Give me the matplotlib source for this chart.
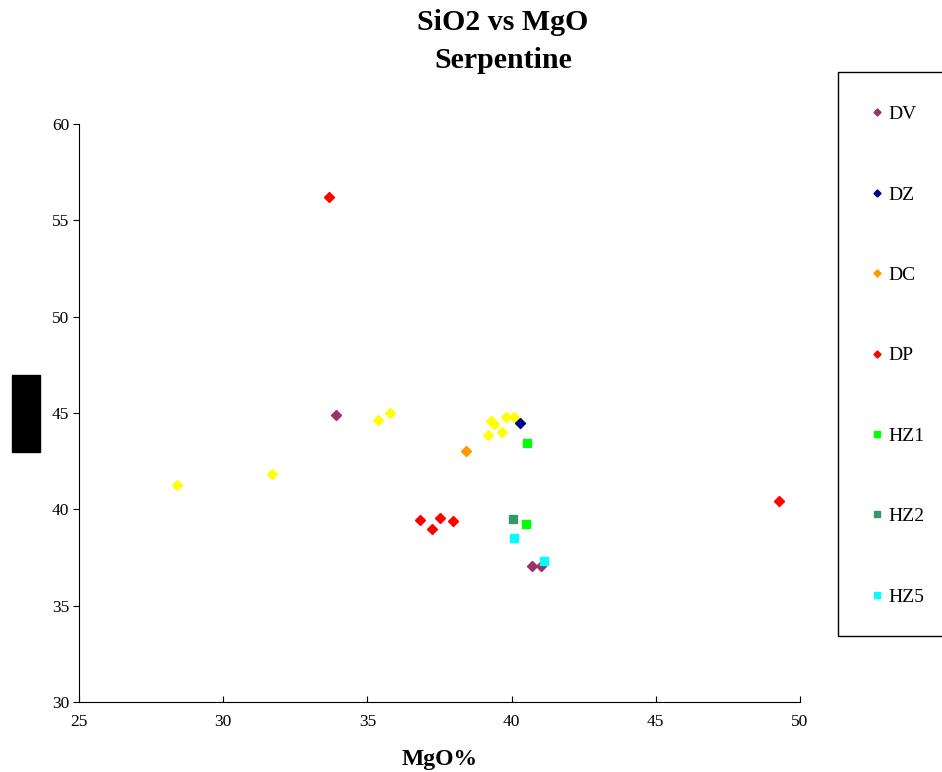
import matplotlib
matplotlib.use("Agg")
import matplotlib.pyplot as plt
from matplotlib.patches import Rectangle

# Data (MgO %, SiO2 %)
dv_x = [33.91, 40.71, 41.02]
dv_y = [44.90, 37.06, 37.06]
dz_x = [40.29]
dz_y = [44.48]
dc_x = [38.42]
dc_y = [43.03]
dp_x = [33.67, 36.82, 37.24, 37.52, 37.97, 49.27]
dp_y = [56.21, 39.45, 38.98, 39.55, 39.40, 40.44]
hz1_x = [40.53, 40.50]
hz1_y = [43.45, 39.26]
hz2_x = [40.04]
hz2_y = [39.49]
hz5_x = [40.08, 41.11]
hz5_y = [38.50, 37.34]
yel_x = [28.40, 31.69, 35.37, 35.78, 39.30, 39.40, 39.19, 39.65, 39.81, 40.07]
yel_y = [41.27, 41.84, 44.62, 45.00, 44.58, 44.45, 43.87, 44.02, 44.78, 44.80]

x_ticks = [25, 30, 35, 40, 45, 50]
y_ticks = [30, 35, 40, 45, 50, 55, 60]

serif = 'Liberation Serif'

fig = plt.figure(figsize=(9.42, 7.72), dpi=100)
ax = fig.add_axes([79/942, 1-702/772, 721/942, 578/772])

ms_d = 4.8
ms_s = 6.3
ax.plot(yel_x, yel_y, linestyle='none', marker='D', ms=ms_d, color='#FFFF00', mec='#FFFF00')
h_dv, = ax.plot(dv_x, dv_y, linestyle='none', marker='D', ms=ms_d, color='#993366', label='DV')
h_dz, = ax.plot(dz_x, dz_y, linestyle='none', marker='D', ms=ms_d, color='#000080', label='DZ')
h_dc, = ax.plot(dc_x, dc_y, linestyle='none', marker='D', ms=ms_d, color='#FF9900', label='DC')
h_dp, = ax.plot(dp_x, dp_y, linestyle='none', marker='D', ms=ms_d, color='#FF0000', label='DP')
h_h1, = ax.plot(hz1_x, hz1_y, linestyle='none', marker='s', ms=ms_s, color='#00FF00', label='HZ1')
h_h2, = ax.plot(hz2_x, hz2_y, linestyle='none', marker='s', ms=ms_s, color='#339966', label='HZ2')
h_h5, = ax.plot(hz5_x, hz5_y, linestyle='none', marker='s', ms=ms_s, color='#00FFFF', label='HZ5')

ax.set_xlim(25, 50)
ax.set_ylim(30, 60)
ax.set_xticks(x_ticks)
ax.set_yticks(y_ticks)
for s in ['top', 'right']:
    ax.spines[s].set_visible(False)
for s in ['left', 'bottom']:
    ax.spines[s].set_linewidth(0.8)
ax.tick_params(axis='y', direction='out', length=4, width=0.8, labelsize=12.5, pad=3)
ax.tick_params(axis='x', direction='in', length=4, width=0.8, labelsize=12.5, pad=9)
for lab in ax.get_xticklabels() + ax.get_yticklabels():
    lab.set_family(serif)

ax.set_xlabel('MgO%', fontsize=17, fontweight='bold', family=serif, labelpad=13)

fig.text(503/942, 1-23/772, 'SiO2 vs MgO', ha='center', va='center', fontsize=21.5,
         fontweight='bold', family=serif)
fig.text(503/942, 1-61/772, 'Serpentine', ha='center', va='center', fontsize=21.5,
         fontweight='bold', family=serif)

# black box at the left (y-label area)
fig.patches.append(Rectangle((12/942, 1-452/772), 28/942, 77/772, transform=fig.transFigure,
                             facecolor='black', edgecolor='black'))

# legend frame
fig.patches.append(Rectangle((838/942, 1-636/772), 120/942, 564/772, transform=fig.transFigure,
                             facecolor='none', edgecolor='black', linewidth=1.0, clip_on=False))

leg = fig.legend(handles=[h_dv, h_dz, h_dc, h_dp, h_h1, h_h2, h_h5],
                 loc='upper left', bbox_to_anchor=(871/942, 1-105.5/772),
                 frameon=False, prop={'family': serif, 'size': 14},
                 labelspacing=3.23, handlelength=0.6, handletextpad=0.27,
                 borderpad=0, borderaxespad=0, markerscale=0.75)

fig.savefig('out.png', dpi=100)
